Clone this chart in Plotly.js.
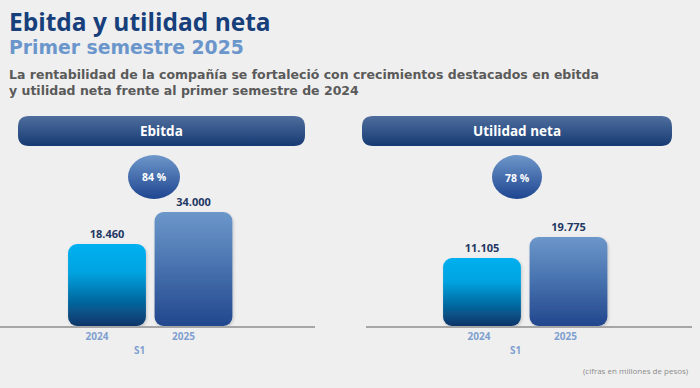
<!DOCTYPE html>
<html>
<head>
<meta charset="utf-8">
<script src="https://cdn.plot.ly/plotly-3.0.1.min.js"></script>
<style>
  html, body { margin: 0; padding: 0; background: #efefef; }
  #chart { width: 700px; height: 388px; }
</style>
</head>
<body>
<div id="chart"></div>
<script>
// ---- data ----
const categories = ['2024', '2025'];
const ebitda = [18460, 34000];
const utilidadNeta = [11105, 19775];
const variations = ['84 %', '78 %'];
const panelTitles = ['Ebitda', 'Utilidad neta'];
const periodLabel = 'S1';
const titleText = 'Ebitda y utilidad neta';
const subtitleText = 'Primer semestre 2025';
const descLines = [
  'La rentabilidad de la compañía se fortaleció con crecimientos destacados en ebitda',
  'y utilidad neta frente al primer semestre de 2024'
];
const footnote = '(cifras en millones de pesos)';

// ---- layout helpers ----
const W = 700, H = 388;
const xp = px => px / W;
const yp = py => 1 - py / H;
const FONT = '"Open Sans", Lato, sans-serif';
const WIDE = '"DejaVu Sans", "Open Sans", sans-serif';

// axis floors (axis does not start at zero in the original)
const floorL = -21365, topL = 64100;
const floorR = -16972, topR = 55698;

function pillPath(x0, y0, x1, y1, r) {
  const P = (x, y) => xp(x).toFixed(5) + ',' + yp(y).toFixed(5);
  return 'M' + P(x0 + r, y0) + ' L' + P(x1 - r, y0) + ' Q' + P(x1, y0) + ' ' + P(x1, y0 + r) +
    ' L' + P(x1, y1 - r) + ' Q' + P(x1, y1) + ' ' + P(x1 - r, y1) +
    ' L' + P(x0 + r, y1) + ' Q' + P(x0, y1) + ' ' + P(x0, y1 - r) +
    ' L' + P(x0, y0 + r) + ' Q' + P(x0, y0) + ' ' + P(x0 + r, y0) + ' Z';
}

const barCommon = {
  type: 'bar',
  width: 0.9,
  marker: { color: '#00a6e4', cornerradius: 9, line: { width: 0 } },
  textposition: 'outside',
  texttemplate: '%{customdata:,.0f}',
  textfont: { family: FONT, size: 11, color: '#1f3864', weight: 'bold' },
  cliponaxis: false,
  hoverinfo: 'skip',
  showlegend: false
};

const traces = [
  Object.assign({}, barCommon, {
    x: categories, y: ebitda.map(v => v - floorL), base: floorL, customdata: ebitda,
    xaxis: 'x', yaxis: 'y'
  }),
  Object.assign({}, barCommon, {
    x: categories, y: utilidadNeta.map(v => v - floorR), base: floorR, customdata: utilidadNeta,
    xaxis: 'x2', yaxis: 'y2'
  })
];

const xCommon = {
  type: 'category', showgrid: false, zeroline: false, showline: true,
  linecolor: '#a6a6a6', linewidth: 2, ticks: '', fixedrange: true,
  tickfont: { family: FONT, size: 10, color: '#7f9fcf', weight: 'bold' }
};
const yCommon = { showgrid: false, zeroline: false, showline: false, showticklabels: false, fixedrange: true };

const annFont = (size, color, weight, fam) => ({ family: fam || FONT, size, color, weight: weight || 'bold' });

const layout = {
  width: W, height: H,
  margin: { l: 0, r: 0, t: 0, b: 0 },
  paper_bgcolor: '#efefef', plot_bgcolor: 'rgba(0,0,0,0)',
  separators: ',.',
  xaxis: Object.assign({}, xCommon, { domain: [xp(0), xp(315)], range: [-1.237, 2.405], anchor: 'y', ticklabelshift: -10 }),
  yaxis: Object.assign({}, yCommon, { domain: [yp(326), yp(150)], range: [floorL, topL], anchor: 'x' }),
  xaxis2: Object.assign({}, xCommon, { domain: [xp(366), xp(692)], range: [-1.341, 2.428], anchor: 'y2', ticklabelshift: -3 }),
  yaxis2: Object.assign({}, yCommon, { domain: [yp(326), yp(150)], range: [floorR, topR], anchor: 'x2' }),
  shapes: [
    { type: 'path', xref: 'paper', yref: 'paper', path: pillPath(18, 116, 305, 146, 11), fillcolor: '#2a4c84', line: { width: 0 } },
    { type: 'path', xref: 'paper', yref: 'paper', path: pillPath(362, 116, 672, 146, 11), fillcolor: '#2a4c84', line: { width: 0 } },
    { type: 'circle', xref: 'paper', yref: 'paper', x0: xp(128), x1: xp(180), y0: yp(199), y1: yp(155), fillcolor: '#3f68a8', line: { width: 0 } },
    { type: 'circle', xref: 'paper', yref: 'paper', x0: xp(492), x1: xp(542), y0: yp(199), y1: yp(155), fillcolor: '#3f68a8', line: { width: 0 } }
  ],
  annotations: [
    { xref: 'paper', yref: 'paper', x: xp(7), y: yp(21.5), xanchor: 'left', yanchor: 'middle', showarrow: false,
      text: titleText, font: annFont(24.5, '#173f7c') },
    { xref: 'paper', yref: 'paper', x: xp(7), y: yp(47.5), xanchor: 'left', yanchor: 'middle', showarrow: false,
      text: subtitleText, font: annFont(18.8, '#6b96cc', 'bold', WIDE) },
    { xref: 'paper', yref: 'paper', x: xp(7), y: yp(74), xanchor: 'left', yanchor: 'middle', showarrow: false,
      text: descLines[0], font: annFont(12.5, '#5a5a5a', 'bold', WIDE) },
    { xref: 'paper', yref: 'paper', x: xp(7), y: yp(90), xanchor: 'left', yanchor: 'middle', showarrow: false,
      text: descLines[1], font: annFont(12.5, '#5a5a5a', 'bold', WIDE) },
    { xref: 'paper', yref: 'paper', x: xp(161.5), y: yp(131), xanchor: 'center', yanchor: 'middle', showarrow: false,
      text: panelTitles[0], font: annFont(13.5, '#ffffff') },
    { xref: 'paper', yref: 'paper', x: xp(517), y: yp(131), xanchor: 'center', yanchor: 'middle', showarrow: false,
      text: panelTitles[1], font: annFont(13.5, '#ffffff') },
    { xref: 'paper', yref: 'paper', x: xp(154), y: yp(177), xanchor: 'center', yanchor: 'middle', showarrow: false,
      text: variations[0], font: annFont(10.5, '#ffffff') },
    { xref: 'paper', yref: 'paper', x: xp(517), y: yp(178), xanchor: 'center', yanchor: 'middle', showarrow: false,
      text: variations[1], font: annFont(10.5, '#ffffff') },
    { xref: 'paper', yref: 'paper', x: xp(139), y: yp(350), xanchor: 'center', yanchor: 'middle', showarrow: false,
      text: periodLabel, font: annFont(10, '#7f9fcf') },
    { xref: 'paper', yref: 'paper', x: xp(515), y: yp(350), xanchor: 'center', yanchor: 'middle', showarrow: false,
      text: periodLabel, font: annFont(10, '#7f9fcf') },
    { xref: 'paper', yref: 'paper', x: xp(691), y: yp(370), xanchor: 'right', yanchor: 'middle', showarrow: false,
      text: footnote, font: annFont(8, '#8c8c8c', 'normal') }
  ]
};

function addGradients(gd) {
  const ns = 'http://www.w3.org/2000/svg';
  const svg = gd.querySelector('svg.main-svg');
  let defs = svg.querySelector('defs');
  if (!defs) { defs = document.createElementNS(ns, 'defs'); svg.insertBefore(defs, svg.firstChild); }
  const grads = {
    g24: [[0, '#00b0f0'], [0.35, '#00a3e0'], [1, '#0a3568']],
    g25: [[0, '#6c97ca'], [0.5, '#4671ae'], [1, '#22478d']],
    gPill: [[0, '#4f6e9e'], [1, '#163a73']],
    gEll: [[0, '#6e97ca'], [1, '#1e4590']]
  };
  Object.keys(grads).forEach(id => {
    const lg = document.createElementNS(ns, 'linearGradient');
    lg.setAttribute('id', id);
    lg.setAttribute('x1', '0'); lg.setAttribute('y1', '0');
    lg.setAttribute('x2', '0'); lg.setAttribute('y2', '1');
    grads[id].forEach(([o, c]) => {
      const s = document.createElementNS(ns, 'stop');
      s.setAttribute('offset', o); s.setAttribute('stop-color', c);
      lg.appendChild(s);
    });
    defs.appendChild(lg);
  });
  const f = document.createElementNS(ns, 'filter');
  f.setAttribute('id', 'barShadow');
  f.setAttribute('x', '-20%'); f.setAttribute('y', '-20%');
  f.setAttribute('width', '140%'); f.setAttribute('height', '140%');
  const ds = document.createElementNS(ns, 'feDropShadow');
  ds.setAttribute('dx', '1'); ds.setAttribute('dy', '1.5');
  ds.setAttribute('stdDeviation', '1.5'); ds.setAttribute('flood-color', '#000'); ds.setAttribute('flood-opacity', '0.18');
  f.appendChild(ds); defs.appendChild(f);

  gd.querySelectorAll('.barlayer .trace').forEach(tr => {
    tr.querySelectorAll('.point path').forEach((p, i) => {
      p.style.fill = 'url(#' + (i === 0 ? 'g24' : 'g25') + ')';
      p.style.filter = 'url(#barShadow)';
    });
  });
  gd.querySelectorAll('.layer-above .shapelayer path').forEach((p, i) => {
    p.style.fill = 'url(#' + (i < 2 ? 'gPill' : 'gEll') + ')';
    p.style.fillOpacity = 1;
  });
}

Plotly.newPlot('chart', traces, layout, { staticPlot: true, displayModeBar: false }).then(addGradients);
</script>
</body>
</html>
